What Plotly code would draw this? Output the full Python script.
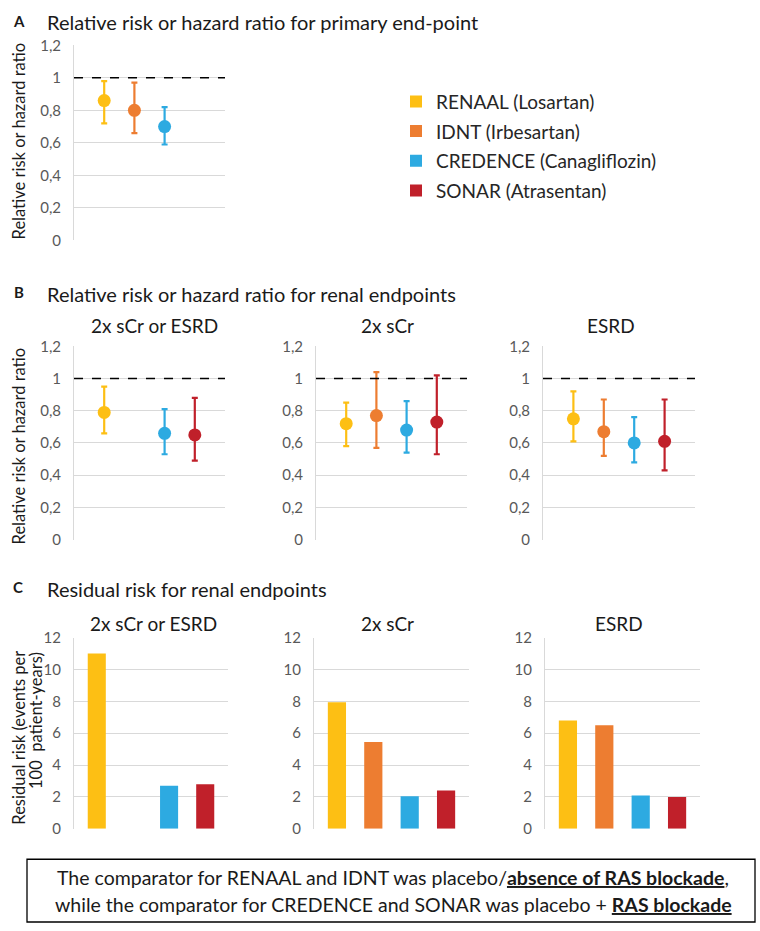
import plotly.graph_objects as go

# ---------------- data ----------------
TRIALS = ["RENAAL (Losartan)", "IDNT (Irbesartan)", "CREDENCE (Canagliflozin)", "SONAR (Atrasentan)"]
COLORS = ["#FDBF14", "#ED7D31", "#2DAAE1", "#C0202A"]
POSITIONS = [1, 2, 3, 4]

RR_TICKVALS = [0, 0.2, 0.4, 0.6, 0.8, 1.0, 1.2]
RR_TICKTEXT = ["0", "0,2", "0,4", "0,6", "0,8", "1", "1,2"]
RESID_TICKVALS = [0, 2, 4, 6, 8, 10, 12]
REFERENCE_LINE = 1.0

ENDPOINTS = ["2x sCr or ESRD", "2x sCr", "ESRD"]

# Panel A: primary end-point
A_EST = [0.86, 0.80, 0.70, None]
A_LO = [0.72, 0.66, 0.59, None]
A_HI = [0.98, 0.97, 0.82, None]

# Panel B: renal endpoints (hazard ratios)
B1_EST = [0.79, None, 0.66, 0.65]
B1_LO = [0.66, None, 0.53, 0.49]
B1_HI = [0.95, None, 0.81, 0.88]

B2_EST = [0.72, 0.77, 0.68, 0.73]
B2_LO = [0.58, 0.57, 0.54, 0.53]
B2_HI = [0.85, 1.04, 0.86, 1.02]

B3_EST = [0.75, 0.67, 0.60, 0.61]
B3_LO = [0.61, 0.52, 0.48, 0.43]
B3_HI = [0.92, 0.87, 0.76, 0.87]

# Panel C: residual risk (events per 100 patient-years)
C1_RISK = [11.0, None, 2.7, 2.8]
C2_RISK = [7.95, 5.45, 2.05, 2.4]
C3_RISK = [6.8, 6.5, 2.1, 2.0]

# ---------------- layout helpers ----------------
W, H = 760, 931
FONT = "Lato, 'Open Sans', sans-serif"
TICK_COLOR = "#595959"
GRID = "#D9D9D9"


def xd(l, r):
    return [l / W, r / W]


def yd(top, bottom):
    return [1 - bottom / H, 1 - top / H]


fig = go.Figure()

# (axis index, x pixel box, y pixel box, kind)
panels = [
    (1, (74, 225), (36, 235), "rr"),
    (2, (74, 225), (343, 540), "rr"),
    (3, (316, 467), (343, 540), "rr"),
    (4, (543, 695), (343, 540), "rr"),
    (5, (74, 228), (640, 835), "bar"),
    (6, (314, 469), (640, 835), "bar"),
    (7, (545, 700), (640, 835), "bar"),
]

rr_data = {
    1: (A_EST, A_LO, A_HI),
    2: (B1_EST, B1_LO, B1_HI),
    3: (B2_EST, B2_LO, B2_HI),
    4: (B3_EST, B3_LO, B3_HI),
}
bar_data = {5: C1_RISK, 6: C2_RISK, 7: C3_RISK}

layout_axes = {}
shapes = []
for idx, (xl, xr), (yt, yb), kind in panels:
    xname = "xaxis" if idx == 1 else f"xaxis{idx}"
    yname = "yaxis" if idx == 1 else f"yaxis{idx}"
    xref = "x" if idx == 1 else f"x{idx}"
    yref = "y" if idx == 1 else f"y{idx}"
    if kind == "rr":
        xrange = [0, 5]
        yaxis = dict(range=[0, 1.2], tickvals=RR_TICKVALS, ticktext=RR_TICKTEXT)
    else:
        xrange = [0.37, 4.63]
        yaxis = dict(range=[0, 12], tickvals=RESID_TICKVALS)
    layout_axes[xname] = dict(
        domain=xd(xl, xr), range=xrange, anchor=yref, showgrid=False,
        zeroline=False, showticklabels=False, showline=False, fixedrange=True,
    )
    yaxis.update(
        domain=yd(yt, yb), anchor=xref, showgrid=True, gridcolor=GRID, gridwidth=1,
        zeroline=False, showline=True, linecolor=GRID, linewidth=1,
        ticks="outside", ticklen=9, tickcolor="rgba(0,0,0,0)",
        tickfont=dict(family=FONT, size=15, color=TICK_COLOR), fixedrange=True,
    )
    layout_axes[yname] = yaxis

    if kind == "rr":
        est, lo, hi = rr_data[idx]
        shapes.append(dict(
            type="line", xref=f"{xref} domain", yref=yref, x0=0, x1=1,
            y0=REFERENCE_LINE, y1=REFERENCE_LINE,
            line=dict(color="#000000", width=1.5, dash="dash"), layer="above",
        ))
        for i in range(len(TRIALS)):
            if est[i] is None:
                continue
            fig.add_trace(go.Scatter(
                x=[POSITIONS[i]], y=[est[i]], mode="markers",
                marker=dict(color=COLORS[i], size=13),
                error_y=dict(type="data", symmetric=False,
                             array=[hi[i] - est[i]], arrayminus=[est[i] - lo[i]],
                             color=COLORS[i], thickness=2.2, width=3),
                xaxis=xref, yaxis=yref, showlegend=False, name=TRIALS[i],
            ))
    else:
        vals = bar_data[idx]
        for i in range(len(TRIALS)):
            if vals[i] is None:
                continue
            fig.add_trace(go.Bar(
                x=[POSITIONS[i]], y=[vals[i]], width=0.5,
                marker=dict(color=COLORS[i], line=dict(width=0)),
                xaxis=xref, yaxis=yref, name=TRIALS[i],
                legendgroup=TRIALS[i], showlegend=(idx == 6),
            ))

# ---------------- annotations ----------------
ann = []


def text(x, y, s, size, color="#1A1A1A", xanchor="center", angle=0):
    ann.append(dict(
        x=x / W, y=1 - y / H, xref="paper", yref="paper", text=s, showarrow=False,
        xanchor=xanchor, yanchor="middle", textangle=angle,
        font=dict(family=FONT, size=size, color=color),
    ))


# section headings
text(19, 11, "<b>A</b>", 15)
text(45, 12, "Relative risk or hazard ratio for primary end-point", 20, xanchor="left")
text(19, 288, "<b>B</b>", 15)
text(45, 290, "Relative risk or hazard ratio for renal endpoints", 20, xanchor="left")
text(18, 588, "<b>C</b>", 15)
text(45, 590, "Residual risk for renal endpoints", 20, xanchor="left")

# endpoint sub-titles
for (cx, cy), name in zip([(154, 322), (387, 322), (611, 322)], ENDPOINTS):
    text(cx, cy, name, 19)
for (cx, cy), name in zip([(153, 626), (387, 626), (619, 626)], ENDPOINTS):
    text(cx, cy, name, 19)

# y-axis titles
text(19, 134, "Relative risk or hazard ratio", 16.5, angle=-90)
text(19, 445, "Relative risk or hazard ratio", 16.5, angle=-90)
text(19, 742, "Residual risk (events per", 16.5, angle=-90)
text(36, 725, "100  patient-years)", 16.5, angle=-90)

# bottom note
text(393, 885, "The comparator for RENAAL and IDNT was placebo/<b><u>absence of RAS blockade</u></b>,", 19.5)
text(393, 912, "while the comparator for CREDENCE and SONAR was placebo + <b><u>RAS blockade</u></b>", 19.5)

shapes.append(dict(
    type="rect", xref="paper", yref="paper",
    x0=27 / W, x1=755 / W, y0=1 - 930 / H, y1=1 - 866 / H,
    line=dict(color="#000000", width=1.3), fillcolor="rgba(0,0,0,0)",
))

fig.update_layout(
    width=W, height=H,
    margin=dict(l=0, r=0, t=0, b=0),
    paper_bgcolor="white", plot_bgcolor="white",
    barmode="overlay",
    showlegend=True,
    legend=dict(
        x=396 / W, y=1 - 74 / H, xanchor="left", yanchor="top",
        font=dict(family=FONT, size=19, color="#262626"),
        tracegroupgap=2, traceorder="grouped", bgcolor="rgba(0,0,0,0)",
        itemclick=False, itemdoubleclick=False,
    ),
    annotations=ann,
    shapes=shapes,
    **layout_axes,
)

fig.write_html(
    "out.html",
    config={"displayModeBar": False, "staticPlot": True},
    post_script="document.body.style.margin='0px';document.body.style.overflow='hidden';",
)
